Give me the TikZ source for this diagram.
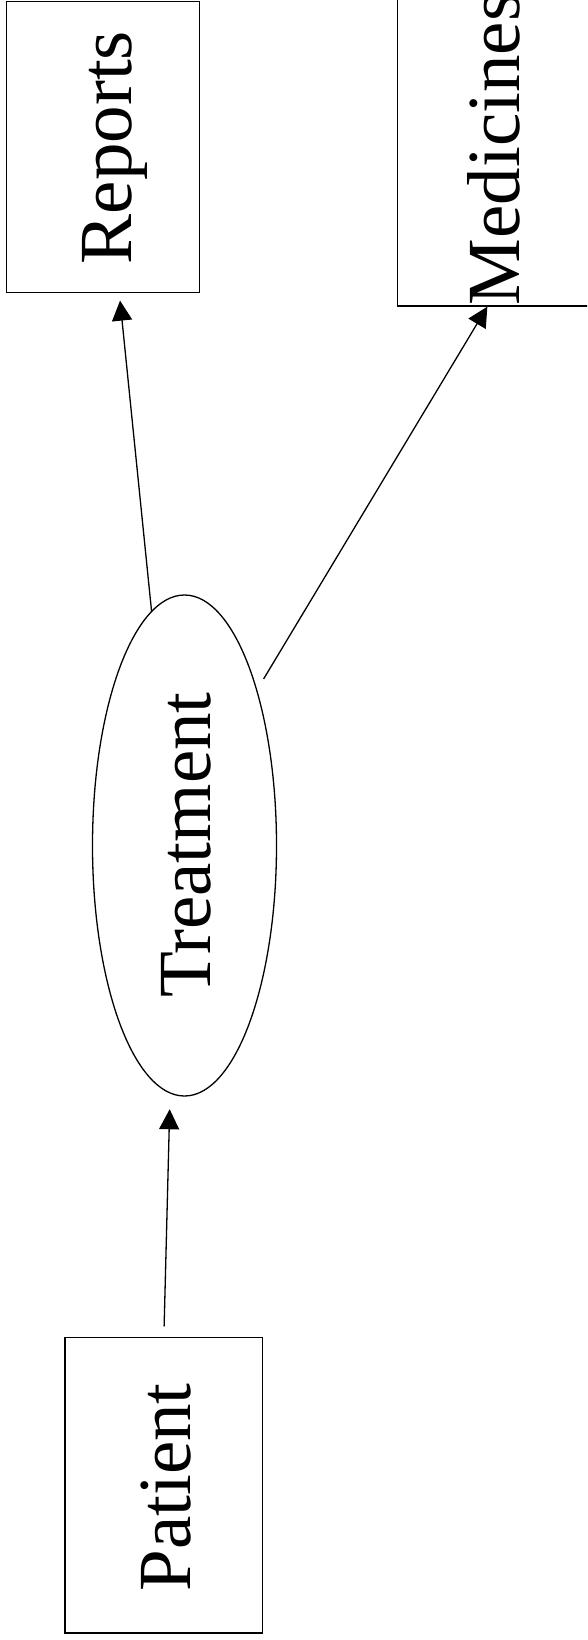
\documentclass[tikz,border=0pt]{standalone}
\usepackage{fontspec}
\setmainfont{Liberation Serif}
\usetikzlibrary{shapes.geometric,arrows.meta}
\begin{document}
\begin{tikzpicture}[x=1pt,y=-1pt,
  box/.style={draw,line width=1.3pt,rectangle,inner sep=0pt},
  oval/.style={draw,line width=1.3pt,ellipse,inner sep=0pt},
  word/.style={rotate=90,anchor=base,inner sep=0pt,font=\fontsize{75}{90}\selectfont},
  arr/.style={line width=1.3pt,-{Triangle[length=20pt,width=20pt]}}]
\useasboundingbox[fill=white] (0,0) rectangle (587,1640);
\clip (0,0) rectangle (587,1640);
% boxes and oval
\node[box,minimum width=192.8pt,minimum height=291.2pt] (rep) at (103.1,147.1) {};
\node[box,minimum width=205pt,minimum height=308pt] (med) at (500,152) {};
\node[box,minimum width=197.7pt,minimum height=295.3pt] (pat) at (163.85,1485.35) {};
\node[oval,minimum width=184pt,minimum height=501pt] (treat) at (184.5,845.5) {};
% labels
\node[word] (repT) at (131,147.5) {Reports};
\node[word] (medT) at (519,149) {Medicines};
\node[word] (treatT) at (210,845) {Treatment};
\node[word] (patT) at (190,1487.5) {Patient};
% connectors
\draw[arr,shorten <=10.7pt,shorten >=12.6pt] (pat.north) -- ([xshift=-14.5pt]treat.south);
\draw[arr,shorten >=7.3pt] (treat.98) -- ([xshift=16.2pt]rep.south);
\draw[arr,shorten <=12.5pt] (treat.65) -- ([xshift=90.5pt]med.south west);
\end{tikzpicture}
\end{document}
